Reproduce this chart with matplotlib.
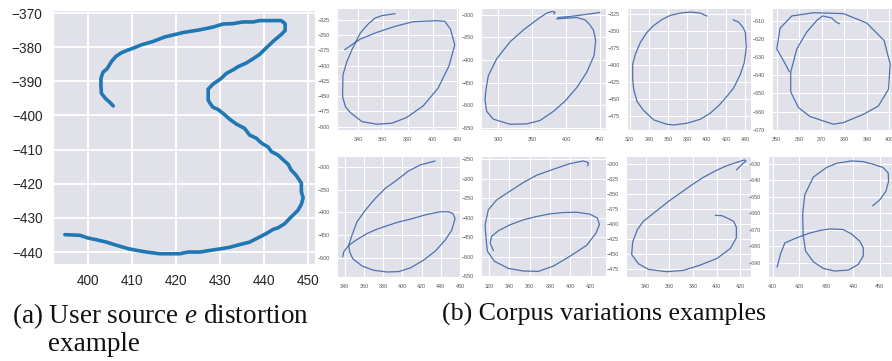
import matplotlib
matplotlib.use("Agg")
import matplotlib.pyplot as plt
import numpy as np
import seaborn as sns

# distorted user "e" trace
user_x = [405.7, 404.9, 404.0, 403.0, 402.9, 402.9, 403.4, 404.3, 405.3, 406.3, 407.6,
          409.1, 410.2, 412.1, 414.8, 417.4, 421.6, 425.4, 428.4, 430.7, 432.9, 435.2,
          437.5, 439.0, 443.9, 444.8, 444.8, 443.9, 442.4, 440.5, 439.0, 437.5, 436.0,
          434.1, 433.0, 431.4, 430.3, 429.2, 428.4, 427.3, 427.3, 427.7, 428.4, 429.5,
          430.7, 432.2, 433.7, 435.6, 436.7, 438.3, 439.0, 439.8, 440.9, 441.7, 443.2,
          444.3, 445.5, 446.2, 447.3, 448.5, 448.5, 448.9, 448.5, 447.7, 447.0, 445.8,
          444.7, 443.2, 442.0, 440.5, 439.0, 436.7, 434.5, 432.2, 429.9, 427.3, 425.4,
          422.7, 420.8, 416.3, 413.3, 411.0, 409.1, 406.4, 404.2, 401.9, 400.0, 398.1, 394.7]
user_y = [-397.2, -396.1, -395.1, -393.5, -391.0, -389.1, -387.3, -386.3, -384.2, -382.7,
          -381.6, -380.8, -380.3, -379.3, -378.3, -377.0, -375.7, -374.9, -374.1, -373.2,
          -373.1, -372.6, -372.6, -372.2, -372.2, -373.1, -375.1, -376.3, -377.9, -380.2,
          -382.1, -383.4, -384.6, -385.7, -386.6, -387.7, -389.1, -390.1, -390.8, -392.3,
          -395.5, -396.4, -397.6, -398.2, -399.4, -401.1, -402.5, -403.8, -405.7, -406.7,
          -407.6, -408.4, -409.2, -410.6, -411.6, -412.9, -414.3, -416.0, -417.5, -419.8,
          -422.4, -424.1, -426.0, -427.8, -428.7, -430.2, -431.7, -432.9, -433.4, -434.6,
          -435.6, -437.1, -437.8, -438.6, -439.1, -439.6, -440.0, -440.0, -440.5, -440.5,
          -440.0, -439.5, -439.0, -438.0, -437.1, -436.4, -435.9, -435.1, -434.9]

# corpus samples, row by row
corpus_x = [
    [369.9, 359.2, 353.9, 348.5, 341.9, 335.2, 331.2, 328.0, 327.7, 329.9, 333.9, 343.2,
     355.2, 367.2, 379.2, 392.5, 404.5, 413.3, 417.9, 414.4, 409.9, 403.2, 384.5, 369.9,
     355.2, 341.9, 329.3],
    [450.2, 425.6, 405.9, 388.7, 386.2, 401.0, 415.8, 428.1, 434.5, 440.4, 443.8, 441.4,
     430.5, 415.8, 398.5, 381.3, 361.6, 341.9, 317.2, 292.6, 282.8, 280.3, 281.8, 285.2,
     297.5, 317.2, 336.9, 356.7, 371.4, 379.8, 383.7, 382.3],
    [400.3, 393.4, 383.0, 372.6, 362.2, 353.6, 344.9, 338.0, 331.1, 325.9, 323.1, 323.1,
     324.2, 327.6, 333.8, 344.9, 358.8, 365.7, 379.5, 393.4, 403.7, 412.4, 421.0, 428.0,
     434.9, 439.0, 441.1, 440.1, 437.6, 433.1, 427.3],
    [355.6, 353.0, 350.0, 351.5, 356.7, 366.3, 379.6, 389.9, 397.6, 400.3, 399.6, 395.1,
     388.5, 379.6, 375.1, 364.8, 359.6, 356.2, 356.2, 358.9, 363.3, 367.8, 370.4, 374.4,
     375.9, 377.8],
    [434.1, 418.5, 406.4, 394.3, 382.2, 371.8, 361.5, 352.8, 347.6, 344.2, 345.2, 348.3,
     358.0, 370.1, 383.9, 396.1, 408.2, 422.0, 434.1, 444.5, 451.4, 454.9, 452.5, 448.0,
     439.3, 425.5, 408.2, 394.3, 373.6, 363.2, 352.8, 344.2, 339.0, 337.9],
    [417.0, 417.7, 412.8, 399.7, 383.3, 366.9, 353.8, 340.7, 327.5, 319.3, 316.1, 317.0,
     318.4, 325.2, 339.0, 353.8, 368.5, 383.3, 399.7, 416.1, 425.2, 428.5, 426.6, 419.3,
     406.2, 393.1, 380.0, 366.9, 353.8, 340.7, 329.2, 322.6, 321.0, 324.3],
    [416.8, 421.6, 425.0, 423.6, 417.3, 408.8, 398.9, 389.0, 379.1, 369.2, 359.3, 352.2,
     345.1, 338.0, 332.9, 329.0, 328.1, 333.8, 342.3, 357.8, 372.0, 386.2, 400.3, 411.7,
     416.8, 416.8, 414.5, 410.3, 404.6, 398.9],
    [447.3, 450.0, 452.2, 453.2, 453.1, 451.2, 447.5, 443.8, 439.4, 433.9, 430.1, 425.2,
     422.0, 421.2, 421.4, 422.3, 425.2, 428.9, 433.2, 438.2, 441.9, 443.8, 443.8, 442.5,
     439.4, 436.3, 431.4, 427.6, 423.9, 418.9, 414.6, 413.0, 411.7],
]
corpus_y = [
    [-315.2, -318.4, -322.3, -331.6, -346.9, -374.2, -393.3, -415.2, -450.7, -467.1, -476.9,
     -491.7, -496.0, -494.4, -485.1, -466.0, -437.0, -400.4, -366.0, -340.3, -327.7, -326.6,
     -328.3, -335.9, -345.8, -356.7, -374.2],
    [-294.8, -300.0, -303.7, -306.0, -309.0, -307.5, -306.0, -311.2, -321.0, -333.7, -356.2,
     -389.9, -427.3, -461.0, -491.0, -513.5, -533.7, -541.2, -542.0, -530.7, -513.5, -487.3,
     -464.8, -434.8, -397.4, -359.9, -333.7, -311.2, -296.3, -292.5, -294.8, -298.5],
    [-327.5, -323.0, -321.5, -323.0, -326.5, -332.5, -341.5, -351.5, -366.5, -384.0, -399.0,
     -421.5, -436.5, -454.0, -466.5, -481.5, -488.0, -489.0, -486.5, -480.5, -471.5, -460.5,
     -446.5, -434.0, -414.0, -396.5, -374.0, -351.5, -344.0, -336.5, -333.0],
    [-638.0, -631.9, -625.4, -613.9, -607.2, -605.4, -605.9, -611.1, -620.7, -633.7, -647.6,
     -656.9, -661.5, -666.1, -667.0, -662.8, -657.8, -649.1, -638.3, -625.4, -616.1, -609.6,
     -607.2, -608.3, -610.2, -611.5],
    [-285.9, -294.8, -308.1, -328.1, -346.7, -368.9, -394.8, -420.7, -450.4, -472.6, -487.4,
     -502.2, -518.5, -528.1, -531.9, -531.1, -523.0, -505.9, -485.9, -461.5, -439.3, -413.3,
     -402.2, -398.5, -398.5, -404.4, -414.8, -422.2, -437.0, -446.7, -460.0, -472.6, -487.4,
     -498.5],
    [-267.0, -258.5, -254.2, -261.0, -275.4, -290.7, -309.3, -331.4, -354.2, -379.7, -417.8,
     -451.7, -485.6, -511.0, -529.7, -536.4, -537.3, -523.7, -498.3, -470.3, -439.0, -417.8,
     -400.8, -390.7, -385.6, -386.4, -389.8, -396.6, -405.1, -417.8, -433.1, -447.5, -464.4,
     -483.9],
    [-309.9, -300.6, -295.0, -293.4, -297.2, -302.8, -311.6, -322.1, -334.8, -348.6, -362.4,
     -373.5, -384.5, -395.6, -409.4, -429.8, -450.8, -466.3, -475.7, -479.6, -477.3, -468.5,
     -457.5, -440.9, -423.2, -405.5, -395.6, -391.2, -386.2, -385.6],
    [-655.4, -651.7, -646.7, -640.7, -635.6, -632.2, -630.2, -628.6, -628.2, -629.6, -632.2,
     -638.0, -648.7, -660.7, -672.9, -682.9, -689.4, -693.4, -695.0, -694.4, -691.0, -685.9,
     -680.9, -676.9, -672.5, -669.8, -669.4, -670.4, -671.9, -674.9, -677.9, -684.5, -692.6],
]

corpus_xlim = [(323.2, 421.3), (274.4, 459.0), (317.2, 446.0), (347.9, 402.9),
               (332.0, 460.0), (312.1, 435.0), (323.3, 429.2), (408.3, 454.5)]
corpus_ylim = [(-505.5, -305.9), (-554.7, -285.0), (-496.5, -315.5), (-670.2, -602.8),
               (-543.0, -274.8), (-551.7, -241.5), (-488.4, -286.7), (-698.6, -625.2)]
# (start, stop, step) for each panel's ticks
corpus_xticks = [(340, 420, 20), (300, 450, 50), (320, 440, 20), (350, 400, 10),
                 (340, 460, 20), (320, 420, 20), (340, 420, 20), (410, 450, 10)]
corpus_yticks = [(-500, -325, 25), (-550, -300, 50), (-475, -325, 25), (-670, -610, 10),
                 (-500, -300, 50), (-550, -250, 50), (-475, -300, 25), (-690, -630, 10)]

caption_a = "(a) User source $e$ distortion"
caption_a2 = "example"
caption_b = "(b) Corpus variations examples"

sns.set_style("darkgrid", {"axes.facecolor": "#e1e1e9"})
plt.rcParams["font.family"] = ["Liberation Sans", "DejaVu Sans"]
plt.rcParams["mathtext.fontset"] = "custom"
plt.rcParams["mathtext.it"] = "Liberation Serif:italic"
plt.rcParams["mathtext.rm"] = "Liberation Serif"

W, H = 892, 361
fig = plt.figure(figsize=(W / 100, H / 100), dpi=100)


def px_axes(left, top, right, bottom):
    return fig.add_axes([left / W, 1 - bottom / H, (right - left) / W, (bottom - top) / H])


ax = px_axes(53, 10, 315, 264)
ax.plot(user_x, user_y, color="#1f77b4", lw=2.6)
ax.set_xlim(392.0, 451.6)
ax.set_ylim(-443.5, -369.1)
ax.set_xticks([400, 410, 420, 430, 440, 450])
ax.set_yticks(range(-440, -369, 10))
ax.tick_params(labelsize=9.8, colors="#262626", pad=4)
ax.grid(color="white", lw=1.3)

cols = [(337, 459), (481, 606), (627, 751), (772, 896)]
cols_b = [(337, 460), (481, 606), (626, 751), (768, 892)]
rows = [(8, 130), (156, 277)]
for i in range(8):
    r, c = divmod(i, 4)
    left, right = (cols if r == 0 else cols_b)[c]
    top, bottom = rows[r]
    a = px_axes(left, top, right, bottom)
    a.plot(corpus_x[i], corpus_y[i], color="#4c72b0", lw=0.9)
    x0, x1, dx = corpus_xticks[i]
    y0, y1, dy = corpus_yticks[i]
    a.set_xticks(np.arange(x0, x1 + 1, dx))
    a.set_yticks(np.arange(y0, y1 + 1, dy))
    a.set_xlim(*corpus_xlim[i])
    a.set_ylim(*corpus_ylim[i])
    a.tick_params(labelsize=3.9, colors="#555555", pad=1.5)
    a.grid(color="white", lw=0.8)

fig.text(12 / W, 1 - 323 / H, caption_a, fontsize=19.5, family="Liberation Serif",
         va="baseline", color="#111111")
fig.text(48 / W, 1 - 351 / H, caption_a2, fontsize=19.5, family="Liberation Serif",
         va="baseline", color="#111111")
fig.text(442 / W, 1 - 321 / H, caption_b, fontsize=18.6, family="Liberation Serif",
         va="baseline", color="#111111")

fig.savefig("out.png", dpi=100)
